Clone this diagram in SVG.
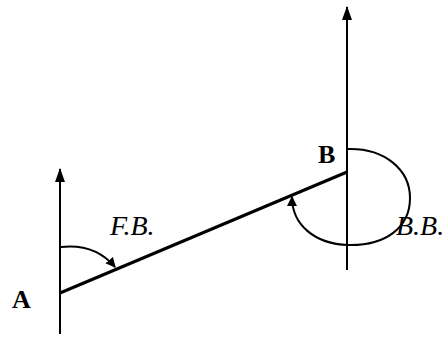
<svg xmlns="http://www.w3.org/2000/svg" width="445" height="337" viewBox="0 0 445 337">
<defs>
<marker id="ah" markerWidth="14" markerHeight="10" refX="13" refY="5" orient="auto" markerUnits="userSpaceOnUse" viewBox="0 0 14 10">
<path d="M0,0 L14,5 L0,10 Z" fill="#000"/>
</marker>
<marker id="sm" markerWidth="10" markerHeight="10" refX="9" refY="5" orient="auto" markerUnits="userSpaceOnUse" viewBox="0 0 10 10">
<path d="M0,0 L10,5 L0,10 Z" fill="#000"/>
</marker>
<style>
.ln{stroke:#000;fill:none;stroke-width:2}
.lb{font-family:"Liberation Serif","Times New Roman",Times,serif;fill:#000}
.pt{font-weight:bold;font-size:26px}
.it{font-style:italic;font-size:28px}
</style>
</defs>
<rect width="445" height="337" fill="#fff"/>
<g id="connectors">
<line class="ln" x1="60" y1="334" x2="60" y2="169" marker-end="url(#ah)"/>
<line class="ln" x1="347" y1="270" x2="347" y2="7" marker-end="url(#ah)"/>
<line class="ln" x1="60" y1="293" x2="347" y2="172" style="stroke-width:3"/>
<path class="ln" d="M61,247 C88,244 104,254 115,267" marker-end="url(#sm)"/>
<path class="ln" d="M348,149 C385,148 410,170 410,198 C410,228 385,246 348,245 C315,244 292,225 292,197" marker-end="url(#sm)"/>
</g>
<g id="A"><text class="lb pt" x="12" y="308">A</text></g>
<g id="B"><text class="lb pt" x="318" y="163">B</text></g>
<g id="FB"><text class="lb it" x="110" y="235">F.B.</text></g>
<g id="BB"><text class="lb it" x="396" y="235">B.B.</text></g>
</svg>
